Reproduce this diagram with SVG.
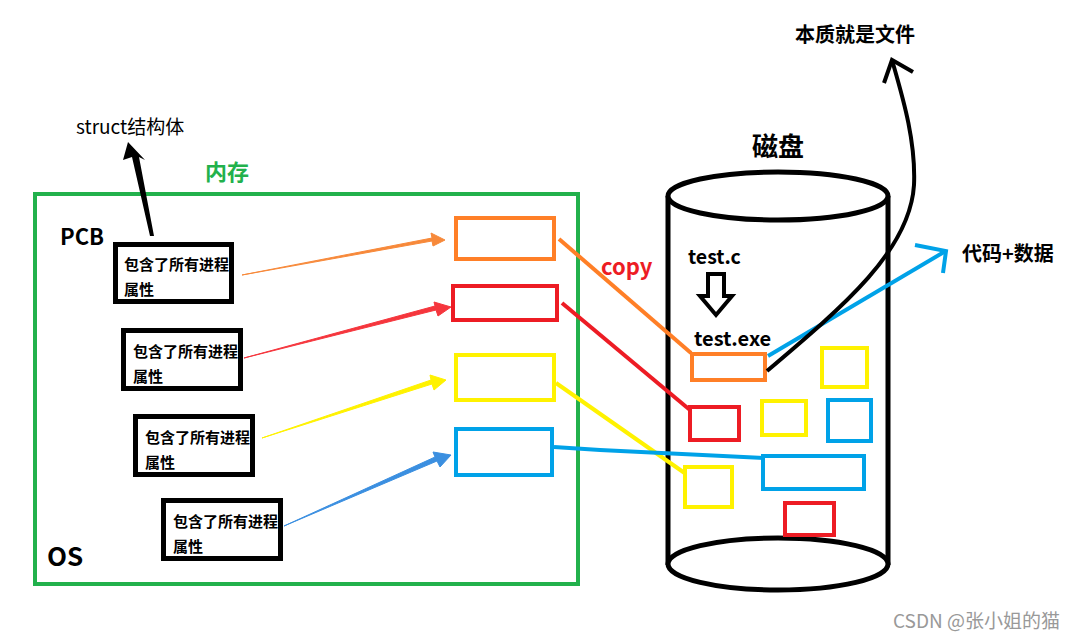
<svg xmlns="http://www.w3.org/2000/svg" width="1080" height="640" viewBox="0 0 1080 640">
<style>
.b{font-family:"Noto Sans CJK SC","Noto Sans",sans-serif;font-weight:bold;fill:#000}
.pcb{fill:#fff;stroke:#000;stroke-width:5}
.t{font-family:"Noto Sans CJK SC",sans-serif;font-weight:bold;font-size:15px;fill:#000}
.o{fill:none;stroke:#ff7f27;stroke-width:4}
.r{fill:none;stroke:#ed1c24;stroke-width:4}
.y{fill:none;stroke:#fff200;stroke-width:4}
.bl{fill:none;stroke:#00a2e8;stroke-width:4}
</style>
<rect width="1080" height="640" fill="#fff"/>
<g id="memory">
<rect x="35" y="194" width="543" height="390" fill="none" stroke="#22b14c" stroke-width="4"/>
<text x="205" y="180" class="b" font-size="22" style="fill:#22b14c">内存</text>
<text x="60" y="245" class="b" font-size="22">PCB</text>
<text x="47" y="566" class="b" font-size="26">OS</text>
</g>
<g id="struct">
<text x="76" y="134" font-family="Noto Sans CJK SC,sans-serif" font-size="19" fill="#000">struct结构体</text>
<polygon points="128,142 123,160 132,157 150,236 154,236 139,157 145,160" fill="#000"/>
</g>
<g id="pcb1"><rect x="115.5" y="244.5" width="116" height="57" class="pcb"/><text x="124" y="270" class="t">包含了所有进程</text><text x="124" y="295" class="t">属性</text></g>
<g id="pcb2"><rect x="123.5" y="330.5" width="117" height="58" class="pcb"/><text x="133" y="357" class="t">包含了所有进程</text><text x="133" y="382" class="t">属性</text></g>
<g id="pcb3"><rect x="135.5" y="416.5" width="117" height="58" class="pcb"/><text x="145" y="443" class="t">包含了所有进程</text><text x="145" y="468" class="t">属性</text></g>
<g id="pcb4"><rect x="163.5" y="500.5" width="117" height="58" class="pcb"/><text x="173" y="527" class="t">包含了所有进程</text><text x="173" y="552" class="t">属性</text></g>
<g id="mem-boxes">
<rect x="456" y="218" width="98" height="41" class="o"/>
<rect x="453" y="286" width="104" height="34" class="r"/>
<rect x="456" y="355" width="98" height="45" class="y"/>
<rect x="456" y="429" width="96" height="46" class="bl"/>
</g>
<g id="disk">
<path d="M668,196 V565 M888,196 V565" stroke="#000" stroke-width="5" fill="none"/>
<ellipse cx="778" cy="196" rx="110" ry="24" fill="#fff" stroke="#000" stroke-width="5"/>
<ellipse cx="778" cy="564" rx="110" ry="26" fill="#fff" stroke="#000" stroke-width="5"/>
<text x="752" y="156" class="b" font-size="26">磁盘</text>
<text x="688" y="264" class="b" font-size="19.5">test.c</text>
<polygon points="708,274 724,274 724,296 732,296 716,315 700,296 708,296" fill="#fff" stroke="#000" stroke-width="4" stroke-linejoin="miter"/>
<text x="694" y="346" class="b" font-size="20">test.exe</text>
<rect x="692" y="354" width="73" height="26" class="o"/>
<rect x="822" y="348" width="45" height="39" class="y"/>
<rect x="690" y="407" width="49" height="33" class="r"/>
<rect x="762" y="401" width="44" height="34" class="y"/>
<rect x="828" y="400" width="43" height="41" class="bl"/>
<rect x="763" y="456" width="101" height="33" class="bl"/>
<rect x="685" y="467" width="47" height="40" class="y"/>
<rect x="785" y="503" width="49" height="32" class="r"/>
</g>
<g id="connectors">
<path d="M242,275 L432,241 L433,246 L445,240 L431,233 L432,238 Z" fill="#f7893a" stroke="#f7893a" stroke-width="1"/>
<path d="M244,358 L436,310 L438,316 L451,307 L434,302 L435,306 Z" fill="#f5363d" stroke="#f5363d" stroke-width="1"/>
<path d="M262,438 L432,384 L434,390 L446,380 L430,375 L431,380 Z" fill="#fff200" stroke="#fff200" stroke-width="1"/>
<path d="M284,526 L437,461 L440,467 L451,455 L433,452 L435,457 Z" fill="#3b8fe0" stroke="#3b8fe0" stroke-width="1"/>
<line x1="559" y1="239" x2="691" y2="353" stroke="#ff7f27" stroke-width="4"/>
<line x1="562" y1="303" x2="690" y2="410" stroke="#ed1c24" stroke-width="4"/>
<line x1="556" y1="383" x2="686" y2="474" stroke="#fff200" stroke-width="4"/>
<polyline points="554,447 600,450 765,458" fill="none" stroke="#00a2e8" stroke-width="4"/>
<line x1="768" y1="356" x2="944" y2="252" stroke="#00a2e8" stroke-width="4"/>
<polyline points="915,245 946,251 943,273" fill="none" stroke="#00a2e8" stroke-width="4"/>
<path d="M767,371 C845,305 910,250 914,185 C916,140 902,95 892,60" fill="none" stroke="#000" stroke-width="4"/>
<polyline points="884,83 892,60 913,72" fill="none" stroke="#000" stroke-width="4"/>
</g>
<g id="labels">
<text x="601" y="275" class="b" font-size="22" style="fill:#ed1c24">copy</text>
<text x="795" y="42" class="b" font-size="20">本质就是文件</text>
<text x="962" y="261" class="b" font-size="20">代码+数据</text>
<text x="893" y="628" font-family="Noto Sans CJK SC,sans-serif" font-size="19" fill="#999">CSDN @张小姐的猫</text>
</g>
</svg>
